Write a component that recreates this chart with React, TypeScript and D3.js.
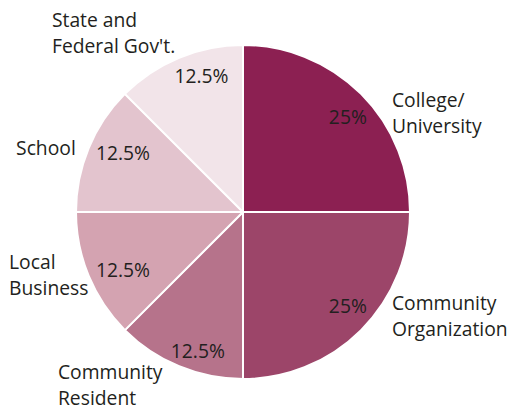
import React from "react";
import * as d3 from "d3";

const categories = [
  ["College/", "University"],
  ["Community", "Organization"],
  ["Community", "Resident"],
  ["Local", "Business"],
  ["School"],
  ["State and", "Federal Gov't."],
];
const values = [25, 25, 12.5, 12.5, 12.5, 12.5];
const valueLabels = ["25%", "25%", "12.5%", "12.5%", "12.5%", "12.5%"];
const colors = ["#8C2052", "#9C4569", "#B6738B", "#D4A3B1", "#E3C4CE", "#F2E4E9"];

// label block anchors (first-line baseline), relative to centre in radius units
const labelOffsets: [number, number][] = [
  [0.892, -0.629],
  [0.892, 0.587],
  [-1.108, 1.0],
  [-1.401, 0.341],
  [-1.359, -0.341],
  [-1.144, -1.108],
];
// value label placement: [angle nudge in degrees, radius factor]
const valuePlacement: [number, number][] = [
  [3, 0.845],
  [-3, 0.845],
  [-4.5, 0.875],
  [-3.5, 0.8],
  [3.5, 0.8],
  [5.5, 0.85],
];

const W = 514;
const H = 410;
const cx = 243;
const cy = 212;
const R = 167;
const FONT = "'Open Sans', sans-serif";
const FS = 19.3;

export default function App() {
  const pie = d3
    .pie<number>()
    .sort(null)
    .value((d) => d)
    .startAngle(0)
    .endAngle(2 * Math.PI);
  const arcs = pie(values);
  const arc = d3.arc<d3.PieArcDatum<number>>().innerRadius(0).outerRadius(R);

  return (
    <svg
      width={W}
      height={H}
      style={{ position: "absolute", left: 0, top: 0, background: "#fff" }}
    >
      <g transform={`translate(${cx},${cy})`}>
        {arcs.map((a, i) => (
          <path key={i} d={arc(a) || ""} fill={colors[i]} stroke="#fff" strokeWidth={2} />
        ))}
        {arcs.map((a, i) => {
          const mid = (a.startAngle + a.endAngle) / 2 + (valuePlacement[i][0] * Math.PI) / 180;
          const r = R * valuePlacement[i][1];
          const x = Math.sin(mid) * r;
          const y = -Math.cos(mid) * r;
          return (
            <text
              key={"v" + i}
              x={x}
              y={y}
              dy="0.35em"
              textAnchor="middle"
              fontFamily={FONT}
              fontSize={FS}
              fill="#231F20"
            >
              {valueLabels[i]}
            </text>
          );
        })}
        {categories.map((lines, i) => (
          <text
            key={"c" + i}
            x={labelOffsets[i][0] * R}
            y={labelOffsets[i][1] * R}
            fontFamily={FONT}
            fontSize={FS}
            fill="#231F20"
          >
            {lines.map((l, j) => (
              <tspan key={j} x={labelOffsets[i][0] * R} dy={j === 0 ? 0 : 26}>
                {l}
              </tspan>
            ))}
          </text>
        ))}
      </g>
    </svg>
  );
}
